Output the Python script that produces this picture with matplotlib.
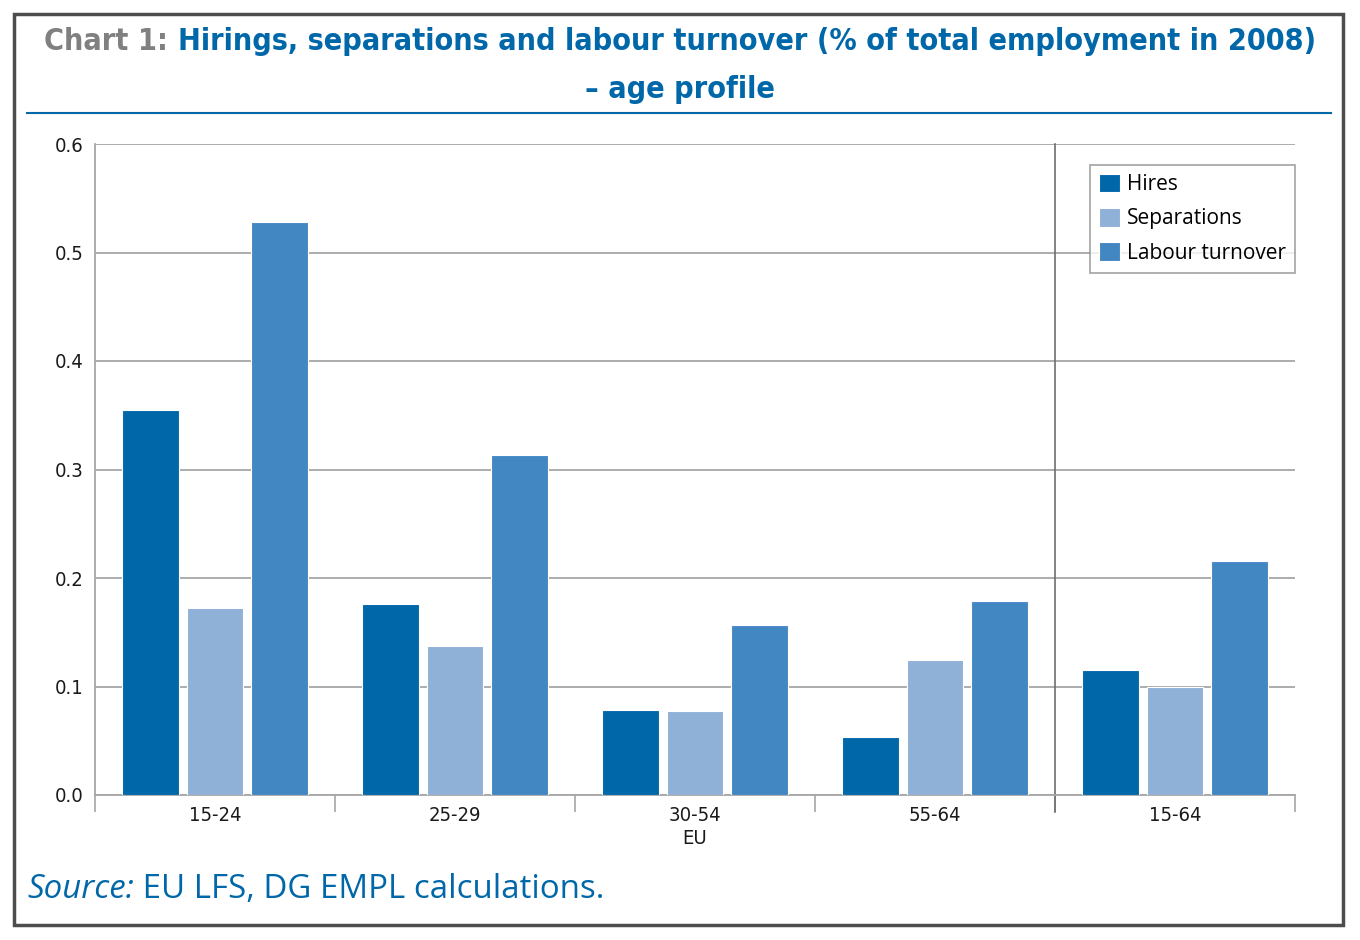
import matplotlib
matplotlib.use("Agg")
import numpy as np
from matplotlib import pyplot as plt
from matplotlib import font_manager
from matplotlib.patches import Rectangle
from matplotlib.lines import Line2D
from matplotlib.transforms import blended_transform_factory

# data
age_groups = ['15-24', '25-29', '30-54', '55-64', '15-64']
hires = [0.355, 0.176, 0.078, 0.053, 0.115]
separations = [0.172, 0.137, 0.077, 0.124, 0.100]
turnover = [0.528, 0.313, 0.157, 0.179, 0.216]
series_names = ['Hires', 'Separations', 'Labour turnover']
y_ticks = [0.0, 0.1, 0.2, 0.3, 0.4, 0.5, 0.6]

c_hires = '#0067A9'
c_sep = '#8FB0D7'
c_turn = '#4287C2'
c_title = '#0067A9'
grid_c = '#A6A6A6'

# look for a condensed face, otherwise Roboto
cond = [f for f in font_manager.fontManager.ttflist
        if f.stretch in ('condensed', 'semi-condensed') or 'Condensed' in f.name or 'Narrow' in f.name]
if cond:
    narrow = dict(family=[cond[0].name, 'DejaVu Sans'], stretch=cond[0].stretch)
    found = True
else:
    narrow = dict(family=['Roboto', 'DejaVu Sans'])
    found = False

W, H = 1360, 940
fig = plt.figure(figsize=(W / 100, H / 100), dpi=100)

# outer frame
fig.patches.append(Rectangle((14 / W, 1 - 925 / H), (1343 - 14) / W, (925 - 14) / H,
                             transform=fig.transFigure, fill=False,
                             edgecolor='#4D4D4D', linewidth=2.5))
# blue rule under title
fig.lines.append(Line2D([27 / W, 1331 / W], [1 - 113 / H] * 2, transform=fig.transFigure,
                        color=c_title, linewidth=1.5))

ax = fig.add_axes([95 / W, 1 - 795 / H, 1200 / W, 651 / H])
x = np.arange(len(age_groups))
bw = 0.237
step = 0.267
kw = dict(edgecolor='white', linewidth=0.8, zorder=3)
ax.bar(x - step, hires, bw, color=c_hires, label=series_names[0], **kw)
ax.bar(x, separations, bw, color=c_sep, label=series_names[1], **kw)
ax.bar(x + step, turnover, bw, color=c_turn, label=series_names[2], **kw)

ax.set_xlim(-0.5, len(age_groups) - 0.5)
ax.set_ylim(0, 0.6)
ax.set_yticks(y_ticks)
ax.set_yticklabels([f'{v:.1f}' for v in y_ticks])
ax.yaxis.grid(True, color=grid_c, linewidth=1.3, zorder=0)
ax.set_axisbelow(True)

# ticks between categories, labels in the middle
ax.set_xticks(np.arange(-0.5, len(age_groups), 1.0))
ax.set_xticklabels([])
ax.set_xticks(x, minor=True)
ax.set_xticklabels(age_groups, minor=True)
ax.tick_params(axis='x', which='major', length=12, width=1.2, color=grid_c)
ax.tick_params(axis='x', which='minor', length=0, pad=8)
ax.tick_params(axis='y', length=0, pad=8.5)
for lab in ax.get_xticklabels(minor=True) + ax.get_yticklabels():
    lab.set_family(narrow['family'])
    if found:
        lab.set_stretch(narrow['stretch'])
    lab.set_fontsize(14.5)
    lab.set_color('#1a1a1a')

for s in ['top', 'right']:
    ax.spines[s].set_visible(False)
for s in ['left', 'bottom']:
    ax.spines[s].set_color(grid_c)
    ax.spines[s].set_linewidth(1.3)

# separator between EU age groups and the total, running down through the tick
sep_tr = blended_transform_factory(ax.transData, ax.transAxes)
ax.plot([3.5, 3.5], [-17 / 651, 1], transform=sep_tr, color='#6E6E6E', linewidth=1.2,
        zorder=2, clip_on=False)

tr = blended_transform_factory(ax.transData, fig.transFigure)
ax.text(2, 1 - 838 / H, 'EU', transform=tr, ha='center', va='center', fontsize=14.5,
        color='#1a1a1a', **narrow)

leg = ax.legend(loc='upper right', bbox_to_anchor=(1.0, 0.968), frameon=True, fancybox=False,
                prop={'family': ['Open Sans', 'DejaVu Sans'], 'size': 15},
                handlelength=1.0, handleheight=1.0, handletextpad=0.35,
                borderpad=0.42, labelspacing=0.62, borderaxespad=0)
leg.get_frame().set_edgecolor('#8C8C8C')
leg.get_frame().set_linewidth(1.2)
leg.set_zorder(5)

# title in two colours, scaled to the reference width
renderer = fig.canvas.get_renderer()
tfont = dict(weight='bold', fontsize=26, **narrow)
t1 = fig.text(0, 1 - 42 / H, 'Chart 1: ', color='#808080', va='center', ha='left', **tfont)
t2 = fig.text(0, 1 - 42 / H,
              'Hirings, separations and labour turnover (% of total employment in 2008)',
              color=c_title, va='center', ha='left', **tfont)
t3 = fig.text(680 / W, 1 - 90 / H, '\u2013 age profile', color=c_title, va='center',
              ha='center', **tfont)
w_tot = t1.get_window_extent(renderer).width + t2.get_window_extent(renderer).width
if w_tot > 1276:
    fs = 26 * 1276 / w_tot
    for t in (t1, t2, t3):
        t.set_fontsize(fs)
w1 = t1.get_window_extent(renderer).width
w2 = t2.get_window_extent(renderer).width
x0 = 680 - (w1 + w2) / 2
t1.set_x(x0 / W)
t2.set_x((x0 + w1) / W)

# source line
sfont = dict(family=['Open Sans', 'DejaVu Sans'], fontsize=23.8, color=c_title)
s1 = fig.text(27 / W, 1 - 890 / H, 'Source:', style='italic', va='center', ha='left', **sfont)
ws = s1.get_window_extent(renderer).width
fig.text((27 + ws) / W, 1 - 890 / H, ' EU LFS, DG EMPL calculations.', va='center', ha='left', **sfont)

fig.savefig('out.png', dpi=100)
